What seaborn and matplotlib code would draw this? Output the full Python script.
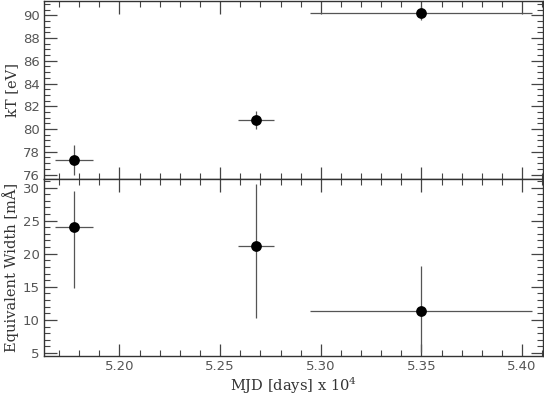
import numpy as np
import matplotlib
matplotlib.use('Agg')
import matplotlib.pyplot as plt
import seaborn as sns
from matplotlib.ticker import MultipleLocator

# MJD in units of 1e4 days
mjd = [5.1775, 5.2678, 5.3500]
mjd_lo = [0.0095, 0.009, 0.0552]
mjd_hi = [0.0095, 0.009, 0.0550]

kt = [77.3, 80.8, 90.2]
kt_err = [1.3, 0.76, 0.6]

ew = [24.0, 21.2, 11.4]
ew_lo = [9.2, 10.9, 6.3]
ew_hi = [5.5, 9.4, 6.7]

sns.set_style('ticks')
plt.rcParams['font.family'] = ['DejaVu Sans']
plt.rcParams['mathtext.fontset'] = 'dejavuserif'

fig, (ax1, ax2) = plt.subplots(2, 1, sharex=True, figsize=(5.44, 3.95), dpi=100)
fig.subplots_adjust(left=44/544, right=543/544, top=1-1/395, bottom=1-356/395, hspace=0)

ecol = '#555555'
for ax, y, yerr in [(ax1, kt, [kt_err, kt_err]), (ax2, ew, [ew_lo, ew_hi])]:
    ax.errorbar(mjd, y, xerr=[mjd_lo, mjd_hi], yerr=yerr, fmt='none',
                ecolor=ecol, elinewidth=0.9, capsize=0, zorder=2)
    sns.scatterplot(x=mjd, y=y, ax=ax, color='black', s=60, edgecolor='black',
                    linewidth=0, zorder=3, legend=False)
    for s in ax.spines.values():
        s.set_color('#333333')
        s.set_linewidth(1.0)
    ax.tick_params(which='both', direction='in', top=True, right=True,
                   colors='#444444', labelsize=9.5, labelcolor='#555555', pad=3)
    ax.tick_params(which='major', length=9, width=0.9)
    ax.tick_params(which='minor', length=4.5, width=0.8)
    ax.xaxis.set_major_locator(MultipleLocator(0.05))
    ax.xaxis.set_minor_locator(MultipleLocator(0.01))

ax1.set_xlim(5.1625, 5.4104)
ax1.set_ylim(75.65, 91.26)
ax1.yaxis.set_major_locator(MultipleLocator(2))
ax1.yaxis.set_minor_locator(MultipleLocator(0.5))
ax1.tick_params(labelbottom=False)

ax2.set_ylim(4.55, 31.36)
ax2.yaxis.set_major_locator(MultipleLocator(5))
ax2.yaxis.set_minor_locator(MultipleLocator(1))
ax2.xaxis.set_major_formatter(matplotlib.ticker.FormatStrFormatter('%.2f'))

lab = dict(family='DejaVu Serif', fontsize=10.5, color='#333333')
ax1.set_ylabel('kT [eV]', labelpad=3, **lab)
ax2.set_ylabel('Equivalent Width [mÅ]', labelpad=3, **lab)
ax2.set_xlabel(r'MJD [days] x 10$^4$', labelpad=2, **lab)

fig.savefig('out.png', dpi=100)
